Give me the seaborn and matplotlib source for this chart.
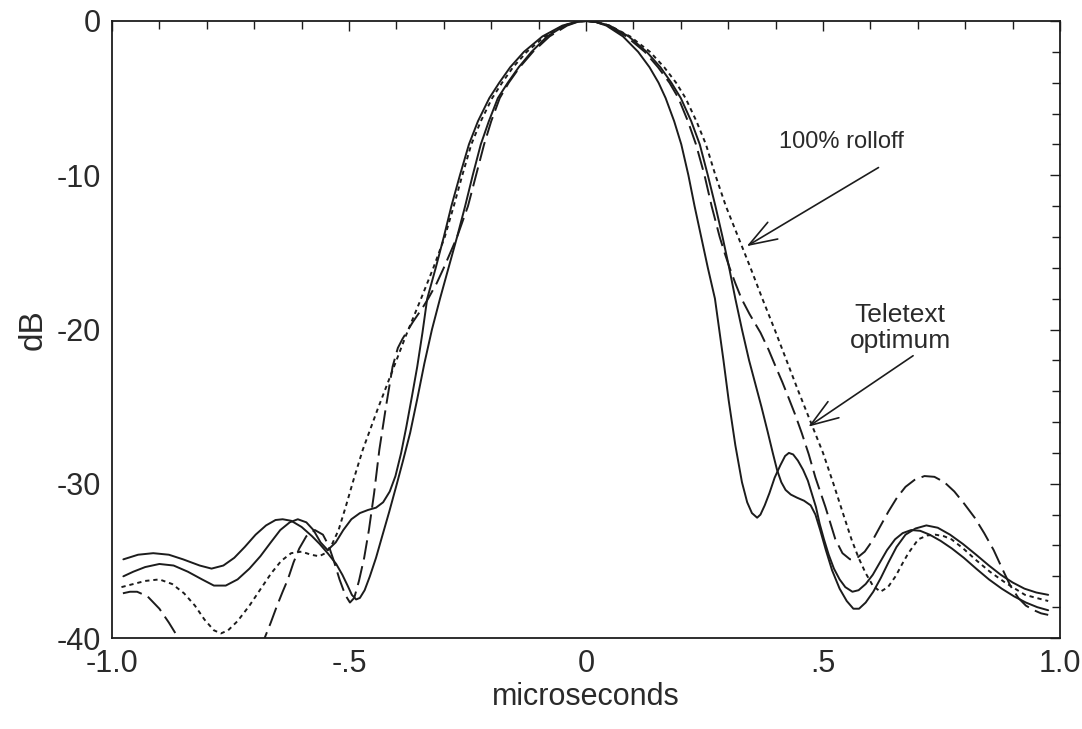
import matplotlib
matplotlib.use("Agg")
import matplotlib.pyplot as plt
from matplotlib.ticker import MultipleLocator
import seaborn as sns

# ---------------- data ----------------
# solid curve 1 (narrow right lobe, dip at 0.36, bump at 0.43)
s1_x = [-0.976, -0.945, -0.913, -0.88, -0.85, -0.815, -0.79, -0.765, -0.742, -0.72, -0.697, -0.675, -0.655, -0.64,
        -0.622, -0.6, -0.578, -0.562, -0.545, -0.527, -0.514, -0.503, -0.494, -0.485, -0.477, -0.467, -0.456,
        -0.443, -0.43, -0.415, -0.399, -0.386, -0.371, -0.356, -0.341, -0.325, -0.308, -0.29, -0.272, -0.255,
        -0.239, -0.222, -0.205, -0.186, -0.165, -0.142, -0.115, -0.082, -0.045, -0.02, 0.0, 0.02, 0.043, 0.078,
        0.11, 0.134, 0.153, 0.168, 0.186, 0.201, 0.216, 0.229, 0.243, 0.257, 0.272, 0.281, 0.29, 0.301, 0.315,
        0.329, 0.34, 0.35, 0.361, 0.368, 0.377, 0.387, 0.398, 0.41, 0.42, 0.428, 0.437, 0.447, 0.458, 0.468,
        0.476, 0.485, 0.493, 0.502, 0.512, 0.523, 0.535, 0.547, 0.562, 0.575, 0.59, 0.605, 0.62, 0.635, 0.652,
        0.668, 0.686, 0.705, 0.725, 0.748, 0.772, 0.797, 0.823, 0.85, 0.877, 0.903, 0.928, 0.952, 0.975]
s1_y = [-34.9, -34.6, -34.5, -34.6, -34.9, -35.3, -35.5, -35.3, -34.8, -34.1, -33.3, -32.7, -32.35, -32.3,
        -32.4, -32.8, -33.4, -33.9, -34.5, -35.2, -35.9, -36.6, -37.2, -37.5, -37.4, -36.9, -36.0,
        -34.8, -33.4, -31.8, -30.0, -28.5, -26.7, -24.5, -22.2, -20.0, -18.0, -16.0, -14.0, -12.0,
        -10.0, -8.0, -6.5, -5.0, -4.0, -3.0, -2.0, -1.0, -0.3, -0.06, 0.0, -0.06, -0.3, -1.0,
        -2.0, -3.0, -4.0, -5.0, -6.5, -8.0, -10.0, -12.0, -14.0, -16.0, -18.0, -20.0, -22.0, -24.6, -27.5,
        -29.9, -31.2, -31.9, -32.2, -32.0, -31.4, -30.6, -29.6, -28.8, -28.2, -28.0, -28.1, -28.5, -29.1, -29.8,
        -30.6, -31.5, -32.6, -33.6, -34.6, -35.5, -36.2, -36.7, -37.0, -36.9, -36.5, -35.9, -35.1, -34.3, -33.6,
        -33.2, -33.0, -33.05, -33.3, -33.7, -34.2, -34.8, -35.5, -36.2, -36.8, -37.3, -37.7, -38.0, -38.2]

# solid curve 2 (left shoulder near -0.45, right shoulder near 0.46)
s2_x = [-0.976, -0.955, -0.93, -0.9, -0.87, -0.84, -0.81, -0.785, -0.76, -0.735, -0.71, -0.687, -0.665, -0.645,
        -0.625, -0.608, -0.59, -0.575, -0.56, -0.545, -0.528, -0.512, -0.495, -0.477, -0.46, -0.443, -0.428,
        -0.414, -0.402, -0.39, -0.379, -0.367, -0.356, -0.345, -0.335, -0.317, -0.3, -0.284, -0.266, -0.247,
        -0.228, -0.204, -0.183, -0.16, -0.131, -0.092, -0.05, -0.022, 0.0, 0.022, 0.05, 0.09, 0.128, 0.157, 0.18,
        0.2, 0.222, 0.24, 0.257, 0.273, 0.288, 0.302, 0.315, 0.329, 0.344, 0.357, 0.37, 0.383, 0.394, 0.403,
        0.412, 0.421, 0.432, 0.445, 0.46, 0.474, 0.484, 0.494, 0.506, 0.519, 0.535, 0.55, 0.564, 0.576, 0.59,
        0.606, 0.622, 0.638, 0.655, 0.674, 0.695, 0.718, 0.742, 0.768, 0.795, 0.823, 0.85, 0.875, 0.9, 0.925,
        0.95, 0.975]
s2_y = [-36.0, -35.7, -35.4, -35.2, -35.3, -35.7, -36.2, -36.6, -36.6, -36.2, -35.5, -34.7, -33.8, -33.0,
        -32.5, -32.3, -32.5, -33.0, -33.8, -34.3, -33.8, -33.0, -32.3, -31.9, -31.7, -31.55, -31.2,
        -30.5, -29.5, -28.0, -26.3, -24.3, -22.4, -20.2, -18.0, -16.0, -14.0, -12.0, -10.0, -8.0,
        -6.5, -5.0, -4.0, -3.0, -2.0, -1.0, -0.3, -0.06, 0.0, -0.06, -0.3, -1.0, -2.0, -3.0, -4.0,
        -5.0, -6.5, -8.0, -10.0, -12.0, -14.0, -16.0, -18.0, -20.0, -22.0, -23.5, -25.0, -26.6, -28.0, -29.1,
        -29.9, -30.4, -30.7, -30.9, -31.1, -31.4, -32.0, -33.0, -34.3, -35.6, -36.8, -37.6, -38.1, -38.1, -37.7,
        -37.0, -36.1, -35.1, -34.1, -33.3, -32.9, -32.7, -32.85, -33.3, -33.9, -34.6, -35.3, -35.9, -36.4, -36.8,
        -37.05, -37.2]

# long-dashed curve ("Teletext optimum"); it leaves the axes near -0.85 and comes back near -0.68
ld1_x = [-0.977, -0.962, -0.947, -0.925, -0.90, -0.88, -0.86, -0.85]
ld1_y = [-37.1, -37.0, -37.0, -37.3, -38.1, -39.0, -40.0, -40.8]
ld2_x = [-0.688, -0.678, -0.665, -0.653, -0.64, -0.629, -0.617, -0.605, -0.59, -0.572, -0.555, -0.543, -0.532,
         -0.52, -0.508, -0.498, -0.489, -0.479, -0.468, -0.458, -0.447, -0.436, -0.422, -0.408, -0.397, -0.387,
         -0.365, -0.345, -0.333, -0.315, -0.3, -0.272, -0.249, -0.232, -0.215, -0.2, -0.182, -0.163, -0.14,
         -0.112, -0.077, -0.04, -0.018, 0.0, 0.02, 0.045, 0.085, 0.124, 0.152, 0.176, 0.195, 0.215, 0.232, 0.25,
         0.265, 0.282, 0.292, 0.303, 0.315, 0.328, 0.345, 0.368, 0.385, 0.40, 0.414, 0.427, 0.441, 0.455, 0.47,
         0.484, 0.505, 0.526, 0.541, 0.557, 0.572, 0.588, 0.604, 0.62, 0.638, 0.656, 0.674, 0.693, 0.714, 0.735,
         0.756, 0.777, 0.798, 0.82, 0.84, 0.86, 0.878, 0.895, 0.912, 0.928, 0.945, 0.96, 0.975]
ld2_y = [-40.8, -40.0, -39.0, -38.0, -37.0, -36.2, -35.1, -34.2, -33.4, -33.0, -33.3, -34.0, -35.0,
         -36.2, -37.2, -37.7, -37.4, -36.3, -34.8, -33.0, -30.6, -27.8, -25.0, -22.4, -21.2, -20.6,
         -19.5, -18.6, -18.0, -17.0, -16.0, -14.0, -12.0, -10.0, -8.0, -6.5, -5.0, -4.0, -3.0,
         -2.0, -1.0, -0.3, -0.06, 0.0, -0.06, -0.3, -1.0, -2.0, -3.0, -4.0, -5.0, -6.5, -8.0, -10.0,
         -12.0, -14.0, -15.0, -16.0, -17.0, -18.0, -19.0, -20.2, -21.3, -22.4, -23.4, -24.4, -25.5, -26.7, -28.1,
         -29.6, -31.5, -33.6, -34.5, -34.9, -34.8, -34.4, -33.7, -32.8, -31.8, -30.9, -30.2, -29.75, -29.5, -29.55,
         -29.9, -30.5, -31.3, -32.2, -33.2, -34.3, -35.5, -36.6, -37.4, -37.9, -38.2, -38.4, -38.5]

# dotted curve ("100% rolloff")
dt_x = [-0.98, -0.955, -0.93, -0.9, -0.873, -0.848, -0.825, -0.805, -0.785, -0.77, -0.755, -0.735, -0.71, -0.686,
        -0.664, -0.643, -0.622, -0.6, -0.58, -0.563, -0.55, -0.537, -0.522, -0.507, -0.49, -0.471, -0.44, -0.41,
        -0.38, -0.348, -0.322, -0.298, -0.279, -0.261, -0.242, -0.222, -0.198, -0.177, -0.154, -0.125, -0.087,
        -0.047, -0.022, 0.0, 0.022, 0.05, 0.093, 0.135, 0.165, 0.19, 0.21, 0.233, 0.253, 0.273, 0.295, 0.321,
        0.347, 0.372, 0.398, 0.423, 0.448, 0.474, 0.5, 0.522, 0.543, 0.56, 0.575, 0.59, 0.605, 0.621, 0.637,
        0.653, 0.667, 0.68, 0.701, 0.72, 0.737, 0.755, 0.771, 0.796, 0.821, 0.852, 0.884, 0.905, 0.926, 0.95,
        0.975]
dt_y = [-36.7, -36.5, -36.3, -36.2, -36.5, -37.1, -37.9, -38.8, -39.5, -39.7, -39.5, -38.9, -37.9, -36.8,
        -35.8, -35.0, -34.5, -34.4, -34.6, -34.7, -34.5, -34.0, -33.0, -31.5, -29.7, -27.8, -25.2, -22.8,
        -20.4, -18.0, -16.0, -14.0, -12.0, -10.0, -8.0, -6.5, -5.0, -4.0, -3.0, -2.0, -1.0,
        -0.3, -0.06, 0.0, -0.06, -0.3, -1.0, -2.0, -3.0, -4.0, -5.0, -6.5, -8.0, -10.0, -12.0, -14.0,
        -16.0, -18.0, -20.0, -22.0, -24.0, -26.0, -28.0, -30.0, -32.0, -33.6, -34.8, -35.8, -36.6, -37.0, -36.7,
        -36.0, -35.2, -34.5, -33.6, -33.35, -33.3, -33.4, -33.6, -34.2, -34.9, -35.7, -36.4, -36.8, -37.2, -37.4,
        -37.6]

x_ticks = [-1.0, -0.5, 0.0, 0.5, 1.0]
x_tick_labels = ["-1.0", "-.5", "0", ".5", "1.0"]
y_ticks = [-40, -30, -20, -10, 0]
y_tick_labels = ["-40", "-30", "-20", "-10", "0"]

# ---------------- drawing ----------------
sns.set_theme(style="white")
plt.rcParams['font.family'] = ['Liberation Sans', 'DejaVu Sans']

fig = plt.figure(figsize=(10.82, 7.29), dpi=100)
ax = fig.add_axes([0.1035, 0.1248, 0.8762, 0.8464])

ink = "#1c1c1c"
txt = "#2a2a2a"
lw = 1.4

sns.lineplot(x=s1_x, y=s1_y, ax=ax, color=ink, lw=lw, sort=False, estimator=None)
sns.lineplot(x=s2_x, y=s2_y, ax=ax, color=ink, lw=lw, sort=False, estimator=None)
for xs, ys in [(ld1_x, ld1_y), (ld2_x, ld2_y)]:
    sns.lineplot(x=xs, y=ys, ax=ax, color=ink, lw=lw, sort=False, estimator=None)
    ax.lines[-1].set_dashes([10, 3.5])
sns.lineplot(x=dt_x, y=dt_y, ax=ax, color=ink, lw=lw, sort=False, estimator=None)
ax.lines[-1].set_dashes([2.2, 2.0])
for ln in ax.lines:
    ln.set_solid_joinstyle('round')
    ln.set_dash_joinstyle('round')

ax.set_xlim(-1, 1)
ax.set_ylim(-40, 0)
ax.set_xticks(x_ticks, labels=x_tick_labels)
ax.set_yticks(y_ticks, labels=y_tick_labels)
ax.xaxis.set_minor_locator(MultipleLocator(0.1))
ax.yaxis.set_minor_locator(MultipleLocator(2))
ax.tick_params(which='both', direction='in', top=True, right=True, colors=ink,
               labelcolor=txt, labelsize=22, width=1.0)
ax.tick_params(which='major', length=7, pad=8)
ax.tick_params(which='minor', length=5.5)
for sp in ax.spines.values():
    sp.set_color(ink)
    sp.set_linewidth(1.3)
    sp.set_visible(True)

ax.set_xlabel("microseconds", fontsize=22, color=txt, labelpad=2)
ax.set_ylabel("dB", fontsize=24, color=txt, labelpad=6)

ax.text(0.539, -7.84, "100% rolloff", fontsize=17, color=txt, ha='center', va='center')
ax.annotate("", xy=(0.339, -14.6), xytext=(0.617, -9.5),
            arrowprops=dict(arrowstyle="->,head_length=1.0,head_width=0.35", color=ink, lw=1.2,
                            mutation_scale=20, shrinkA=0, shrinkB=0))
ax.text(0.663, -19.9, "Teletext\noptimum", fontsize=19, color=txt, ha='center', va='center',
        multialignment='center', linespacing=1.15)
ax.annotate("", xy=(0.469, -26.3), xytext=(0.69, -21.7),
            arrowprops=dict(arrowstyle="->,head_length=1.0,head_width=0.35", color=ink, lw=1.2,
                            mutation_scale=20, shrinkA=0, shrinkB=0))

fig.savefig("out.png", dpi=100, facecolor="white")
